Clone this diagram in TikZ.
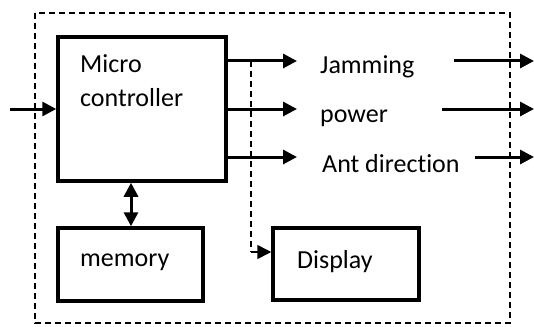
\documentclass[tikz,border=0pt]{standalone}
\usepackage{fontspec}
\setmainfont{Carlito}[Ligatures=NoCommon]
\usetikzlibrary{arrows.meta}
\begin{document}
\begin{tikzpicture}[x=1pt,y=-1pt,
  blockbox/.style={draw,line width=3.5pt,inner sep=0pt},
  lbl/.style={inner sep=0pt,anchor=base west,font=\fontsize{26}{33}\selectfont,align=left},
  arr/.style={line width=3pt,-{Triangle[length=14pt,width=14pt]}},
  dblarr/.style={line width=3pt,{Triangle[length=14pt,width=14pt]}-{Triangle[length=14pt,width=14pt]}},
  dsh/.style={line width=1.6pt,dash pattern=on 6pt off 4pt}]
\useasboundingbox (0,0) rectangle (534,326);
% outer dashed boundary
\draw[dsh] (35,13) rectangle (510,323);
% blocks
\node[blockbox,minimum width=168pt,minimum height=144pt] (mc) at (142,109) {};
\node[blockbox,minimum width=145pt,minimum height=73pt] (mem) at (130.5,264.5) {};
\node[blockbox,minimum width=146pt,minimum height=72pt] (dsp) at (346,264) {};
% texts
\node[lbl] (mctext) at (80,106) {Micro\\controller};
\node[lbl] (memtext) at (80,266) {memory};
\node[lbl] (dsptext) at (297,268) {Display};
\node[lbl] (jam) at (320,74) {Jamming};
\node[lbl] (pow) at (320,122) {power};
\node[lbl] (ant) at (322,172) {Ant direction};
% coordinates
\coordinate (in) at (10,109);
\coordinate (t1) at (297,61);
\coordinate (t2) at (297,109);
\coordinate (t3) at (297,157);
\coordinate (j0) at (454,61);
\coordinate (j1) at (534,61);
\coordinate (p0) at (442,109);
\coordinate (p1) at (534,109);
\coordinate (a0) at (475,157);
\coordinate (a1) at (534,157);
\coordinate (tap) at (251,61);
\coordinate (corner) at (251,252);
% connectors
\draw[arr] (in) -- (in -| mc.west);
\draw[arr] (t1 -| mc.east) -- (t1);
\draw[arr] (t2 -| mc.east) -- (t2);
\draw[arr] (t3 -| mc.east) -- (t3);
\draw[arr] (j0) -- (j1);
\draw[arr] (p0) -- (p1);
\draw[arr] (a0) -- (a1);
\draw[dblarr] (mc.south -| 131,0) -- (mem.north -| 131,0);
\draw[dsh] (tap) -- (corner);
\draw[line width=1.6pt,-{Triangle[length=14pt,width=14pt]}] (corner) -- (corner -| dsp.west);
\end{tikzpicture}
\end{document}
